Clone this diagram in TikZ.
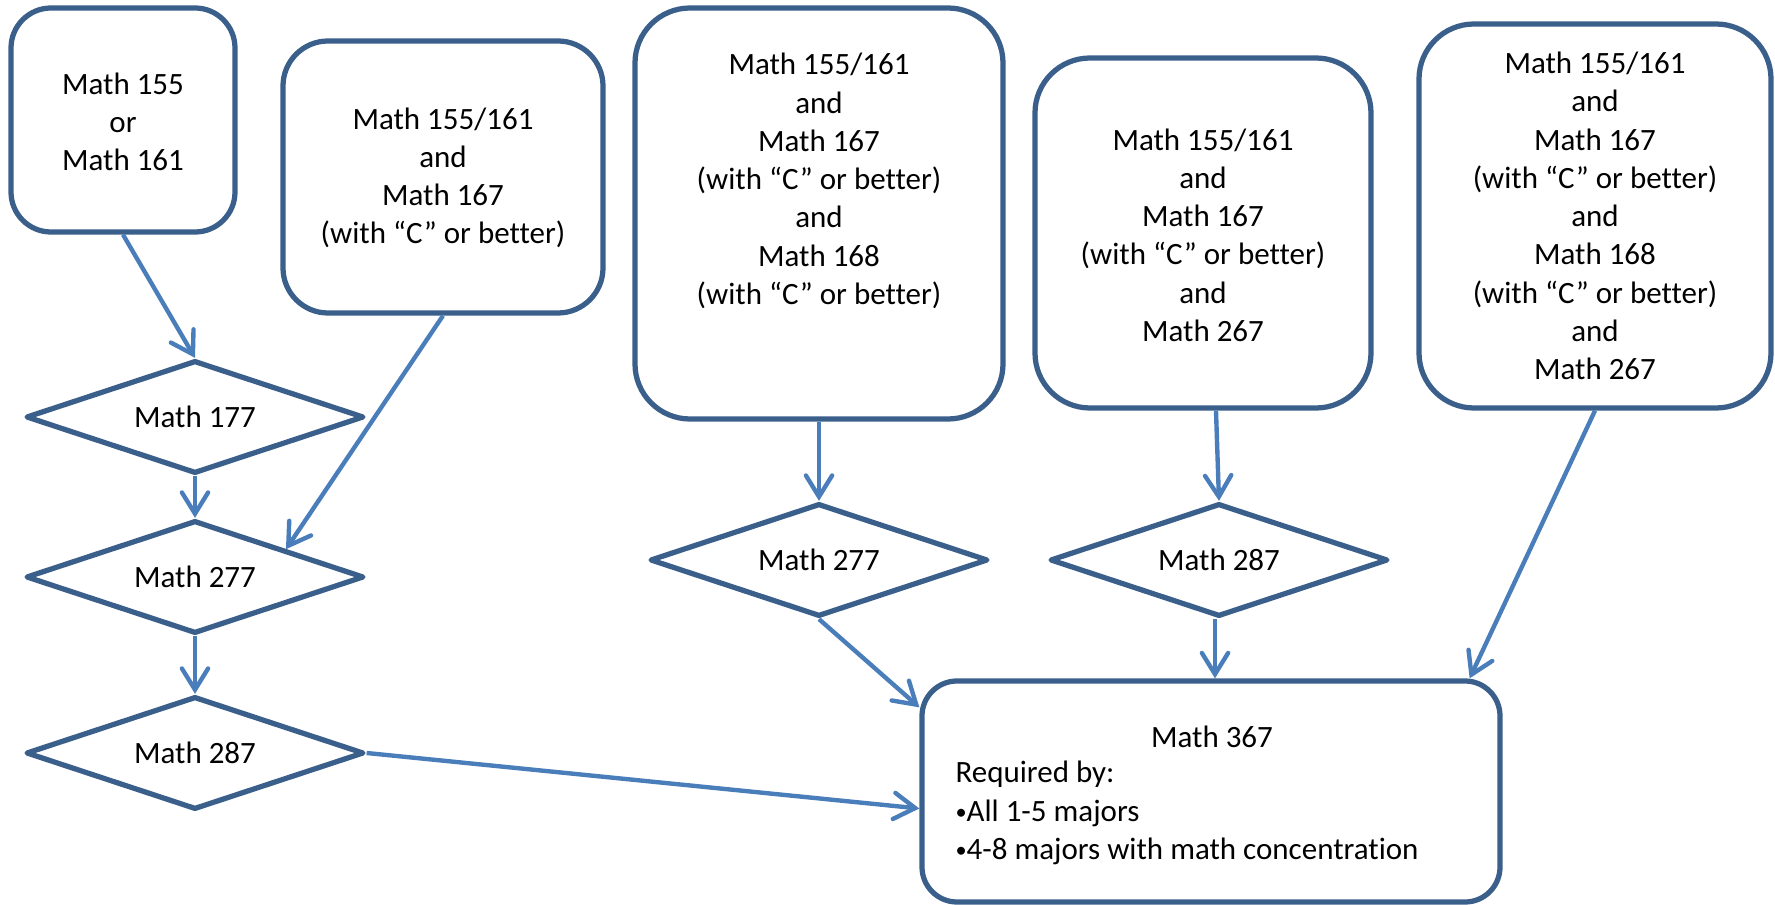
\documentclass[tikz,border=0pt]{standalone}
\usepackage{fontspec}
\usepackage{graphicx}
\setmainfont[Ligatures={NoCommon}]{Carlito}
\usetikzlibrary{shapes.geometric,arrows.meta,calc}
\definecolor{boxc}{HTML}{3A5F8B}
\definecolor{arrc}{HTML}{4A7EBB}
\newcommand\lblfont{\fontsize{12.4pt}{15.3pt}\selectfont}
\newcommand\smbul{\raisebox{0.12ex}{\scalebox{0.72}{•}}}
\begin{document}
\begin{tikzpicture}[x=0.4pt,y=-0.4pt,
  box/.style={draw=boxc,line width=2.1pt,fill=white,inner sep=0pt},
  dia/.style={diamond,aspect=3,draw=boxc,line width=2.1pt,line join=round,fill=white,inner sep=0pt,
    minimum width=135.2pt,minimum height=45.2pt,font=\lblfont},
  txt/.style={align=center,inner sep=0pt,font=\lblfont},
  arr/.style={draw=arrc,line width=1.75pt,-{Straight Barb[length=8.5pt,width=10.5pt,line cap=round]}}]
\useasboundingbox (0,0) rectangle (1775,905);

% top boxes
\node[box,rounded corners=16pt,minimum width=89.6pt,minimum height=89.6pt] (A) at (123,120) {};
\node[txt] (At) at (123,122) {Math 155\\or\\Math 161};

\node[box,rounded corners=18pt,minimum width=128pt,minimum height=108.8pt] (B) at (443,177) {};
\node[txt] (Bt) at (443,178) {Math 155/161\\and\\Math 167\\(with “C” or better)};

\node[box,rounded corners=22pt,minimum width=147.2pt,minimum height=164.4pt] (C) at (819,213.5) {};
\node[txt] (Ct) at (819,181) {Math 155/161\\and\\Math 167\\(with “C” or better)\\and\\Math 168\\(with “C” or better)};

\node[box,rounded corners=22pt,minimum width=134.4pt,minimum height=140pt] (D) at (1203,233) {};
\node[txt] (Dt) at (1203,235) {Math 155/161\\and\\Math 167\\(with “C” or better)\\and\\Math 267};

\node[box,rounded corners=22pt,minimum width=140.8pt,minimum height=153.6pt] (E) at (1595,216) {};
\node[txt] (Et) at (1595,216) {Math 155/161\\and\\Math 167\\(with “C” or better)\\and\\Math 168\\(with “C” or better)\\and\\Math 267};

% bottom box
\node[box,rounded corners=14pt,minimum width=231.2pt,minimum height=88.4pt] (F) at (1211,791.5) {};
\node[txt] (Ft) at (1212,737) {Math 367};
\node[txt,align=left,anchor=west] (Fl) at (955,813) {Required by:\\\smbul All 1-5 majors\\\smbul 4-8 majors with math concentration};

% diamonds
\node[dia] (d1) at (195,417) {Math 177};
\node[dia] (d2) at (195,577) {Math 277};
\node[dia] (d3) at (195,753) {Math 287};
\node[dia] (d4) at (819,560) {Math 277};
\node[dia] (d5) at (1219,560) {Math 287};

% helper coordinates
\coordinate (d2ne) at ($(d2.north)!0.53!(d2.east)$);
\coordinate (Ds) at ($(D.south)+(13,0)$);
\coordinate (d5s) at ($(d5.south)+(-4,0)$);
\coordinate (Fne) at ($(F.north east)+(-33,0)$);
\coordinate (Fnw) at ($(F.north west)+(0,29)$);
\coordinate (Fw) at ($(F.west)+(0,17)$);

% connectors
\draw[arr] (A.south) -- (d1.north);
\draw[arr] (B.south) -- (d2ne);
\draw[arr] (d1.south) -- (d2.north);
\draw[arr] (d2.south) -- (d3.north);
\draw[arr] (C.south) -- (d4.north);
\draw[arr] (Ds) -- (d5.north);
\draw[arr] (E.south) -- (Fne);
\draw[arr] (d4.south) -- (Fnw);
\draw[arr] (d5s) -- (d5s |- F.north);
\draw[arr] (d3.east) -- (Fw);
\end{tikzpicture}
\end{document}
